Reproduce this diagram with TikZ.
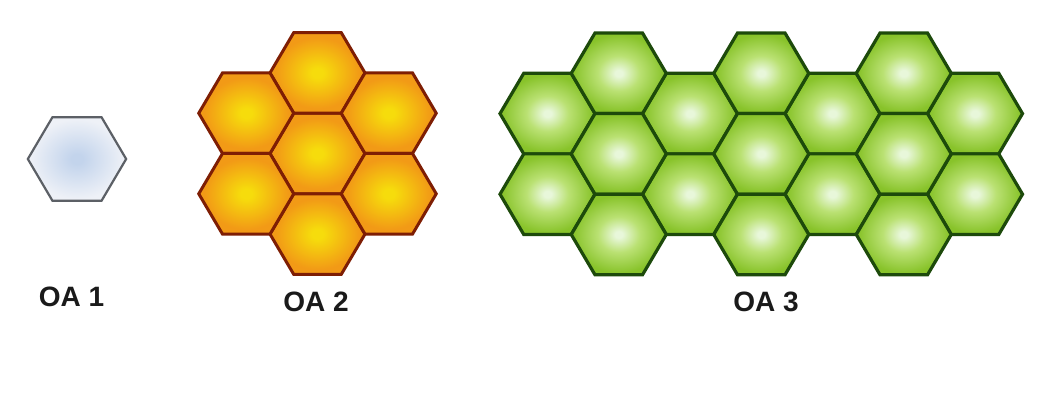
\documentclass[tikz,border=0pt]{standalone}
\usepackage{fontspec}
\setmainfont{Liberation Sans}
\definecolor{oaonein}{HTML}{C3D4EC}
\definecolor{oaoneout}{HTML}{EEF1F7}
\definecolor{oaoneline}{HTML}{5C6066}
\definecolor{oatwoin}{HTML}{F6DC0C}
\definecolor{oatwoout}{HTML}{F29A16}
\definecolor{oatwoline}{HTML}{7E1E04}
\definecolor{oathreein}{HTML}{E8F7DA}
\definecolor{oathreemid}{HTML}{BAE173}
\definecolor{oathreeout}{HTML}{88C32A}
\definecolor{oathreeline}{HTML}{1D4A0B}
\definecolor{labeltext}{HTML}{1A1A1A}
\pgfdeclareradialshading{glowone}{\pgfpoint{0bp}{0bp}}{color(0bp)=(oaonein); color(3bp)=(oaonein); color(24bp)=(oaoneout); color(50bp)=(oaoneout)}
\pgfdeclareradialshading{glowtwo}{\pgfpoint{0bp}{0bp}}{color(0bp)=(oatwoin); color(3bp)=(oatwoin); color(22bp)=(oatwoout); color(50bp)=(oatwoout)}
\pgfdeclareradialshading{glowthree}{\pgfpoint{0bp}{0bp}}{color(0bp)=(oathreein); color(2bp)=(oathreein); color(11bp)=(oathreemid); color(24bp)=(oathreeout); color(50bp)=(oathreeout)}
\newcommand{\hexr}{47.5}
\newcommand{\hexh}{40.3}

\begin{document}
\begin{tikzpicture}[
  x=1pt,y=-1pt,
  pics/hexcell/.style={code={
    \path[pic actions] (-\hexr,0) -- (-\hexr/2,-\hexh) -- (\hexr/2,-\hexh)
      -- (\hexr,0) -- (\hexr/2,\hexh) -- (-\hexr/2,\hexh) -- cycle;}},
  bluehex/.style={draw=oaoneline,line width=2.2pt,shading=glowone},
  orangehex/.style={draw=oatwoline,line width=3pt,shading=glowtwo},
  greenhex/.style={draw=oathreeline,line width=3.2pt,shading=glowthree},
  lbl/.style={text=labeltext,font=\fontsize{28}{32}\selectfont\bfseries,inner sep=0pt}]
  \fill[white] (0,0) rectangle (1044,393);
  \useasboundingbox (0,0) rectangle (1044,393);
  \pic[bluehex,scale=1.035] at (77,159) {hexcell};
  \foreach \dx/\dy in {0/0,0/-2,0/2,-1/-1,-1/1,1/-1,1/1}
    \pic[orangehex] at (317.5+71.25*\dx,153.5+40.3*\dy) {hexcell};
  \foreach \c in {0,2,4,6}
    \foreach \r in {2,4}
      \pic[greenhex] at (547.5+71.25*\c,33+40.3*\r) {hexcell};
  \foreach \c in {1,3,5}
    \foreach \r in {1,3,5}
      \pic[greenhex] at (547.5+71.25*\c,33+40.3*\r) {hexcell};
  \node[lbl] (oa1) at (71.5,297) {OA 1};
  \node[lbl] (oa2) at (316,302) {OA 2};
  \node[lbl] (oa3) at (766,302) {OA 3};
\end{tikzpicture}
\end{document}
